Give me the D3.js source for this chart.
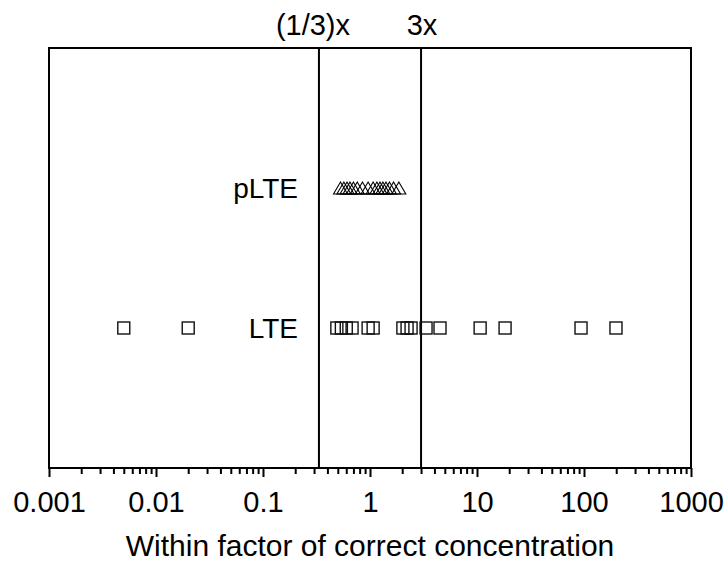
<!DOCTYPE html>
<html><head><meta charset="utf-8">
<script src="https://cdn.jsdelivr.net/npm/d3@7"></script>
<style>body{margin:0;background:#fff}svg{display:block}text{font-family:"Liberation Sans",Arial,sans-serif;fill:#000}</style>
</head><body><svg id="c" width="726" height="569"></svg>
<script>
const categories = ["LTE", "pLTE"];
const lteValues = [0.005, 0.02, 0.49, 0.54, 0.60, 0.68, 0.96, 1.07, 2.03, 2.22, 2.42, 3.34, 4.51, 10.7, 18.3, 93.8, 199];
const plteValues = [0.53, 0.57, 0.61, 0.65, 0.70, 0.76, 0.85, 0.96, 1.07, 1.16, 1.24, 1.32, 1.41, 1.52, 1.66, 1.86];
const refLines = [1/3, 3];
const refLabels = ["(1/3)x", "3x"];
const tickValues = [0.001, 0.01, 0.1, 1, 10, 100, 1000];
const tickLabels = ["0.001", "0.01", "0.1", "1", "10", "100", "1000"];
const xTitle = "Within factor of correct concentration";

const svg = d3.select("#c");
const L = 49, R = 691, T = 48, B = 468;
const x = d3.scaleLog().domain([0.001, 1000]).range([L, R]);
const y = d3.scaleLinear().domain([0, 3]).range([B, T]);
const yPos = {LTE: 1, pLTE: 2};

// minor ticks
const minor = [];
for (let e = -3; e < 3; e++) for (let m = 2; m <= 9; m++) minor.push(m * Math.pow(10, e));
svg.append("g").attr("transform", `translate(0,${B})`)
  .call(d3.axisBottom(x).tickValues(minor).tickSize(6).tickFormat(""))
  .call(g => { g.select(".domain").remove(); g.selectAll("line").attr("stroke", "#000").attr("stroke-width", 2); });
svg.append("g").attr("transform", `translate(0,${B})`)
  .call(d3.axisBottom(x).tickValues(tickValues).tickSize(9).tickPadding(14).tickFormat((d, i) => tickLabels[i]))
  .call(g => {
    g.select(".domain").remove();
    g.selectAll("line").attr("stroke", "#000").attr("stroke-width", 2);
    g.selectAll("text").attr("font-size", 29).attr("font-family", "Liberation Sans, Arial, sans-serif").attr("fill", "#000");
  });

// frame
svg.append("rect").attr("x", L).attr("y", T).attr("width", R - L).attr("height", B - T)
  .attr("fill", "none").attr("stroke", "#000").attr("stroke-width", 2);

// reference lines
svg.selectAll(".ref").data(refLines).enter().append("line")
  .attr("x1", d => x(d)).attr("x2", d => x(d)).attr("y1", T).attr("y2", B)
  .attr("stroke", "#000").attr("stroke-width", 2);
svg.selectAll(".refl").data(refLines).enter().append("text")
  .attr("x", (d, i) => x(d) + (i === 0 ? -6 : 1)).attr("y", 35)
  .attr("text-anchor", "middle").attr("font-size", 29).text((d, i) => refLabels[i]);

// category labels
svg.selectAll(".cat").data(categories).enter().append("text")
  .attr("x", 298).attr("y", d => y(yPos[d]) + 10)
  .attr("text-anchor", "end").attr("font-size", 28).text(d => d);

// LTE squares
const s = 12;
svg.selectAll(".sq").data(lteValues).enter().append("rect")
  .attr("x", d => x(d) - s / 2).attr("y", y(yPos.LTE) - s / 2)
  .attr("width", s).attr("height", s)
  .attr("fill", "none").attr("stroke", "#111").attr("stroke-width", 1.4);

// pLTE triangles
const tw = 14, th = 12;
svg.selectAll(".tri").data(plteValues).enter().append("path")
  .attr("d", d => { const cx = x(d), cy = y(yPos.pLTE); return `M${cx - tw/2},${cy + th/2}L${cx},${cy - th/2}L${cx + tw/2},${cy + th/2}Z`; })
  .attr("fill", "none").attr("stroke", "#000").attr("stroke-width", 1.1);

// x title
svg.append("text").attr("x", (L + R) / 2).attr("y", 556)
  .attr("text-anchor", "middle").attr("font-size", 30).text(xTitle);
</script></body></html>
